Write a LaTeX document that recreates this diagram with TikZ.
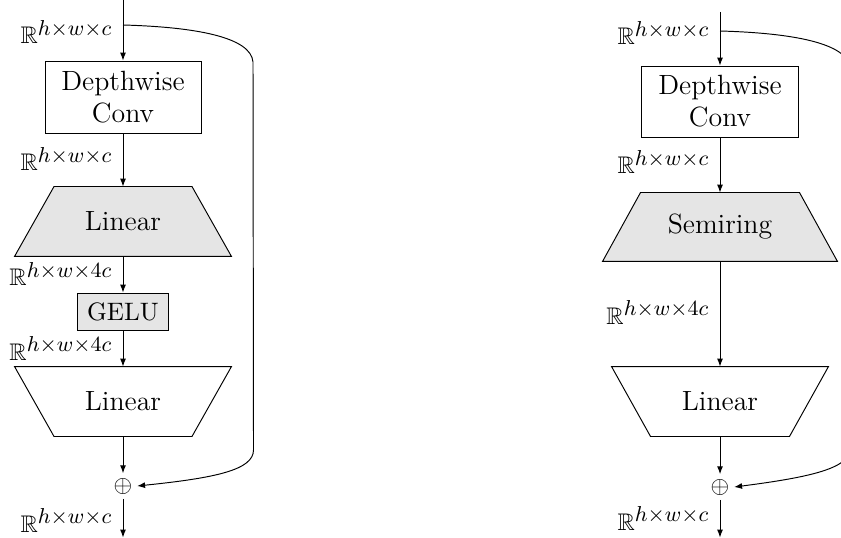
\documentclass[tikz,border=0pt]{standalone}
\usepackage{fontspec}
\usepackage{amssymb}
\usetikzlibrary{calc,backgrounds,arrows.meta}
% superscripts of the shape labels are set close to full size
\DeclareMathSizes{10}{10}{9}{7}
\newcommand\pxu{0.41667pt}
\tikzset{
  blk/.style={draw, align=center, inner sep=0pt, font=\fontsize{11.6}{13.4}\selectfont},
  trapnode/.style={inner sep=0pt, align=center, font=\fontsize{11.6}{13.4}\selectfont},
  opbox/.style={draw, fill=black!10, inner sep=0pt, font=\fontsize{10.5}{12}\selectfont},
  lbl/.style={anchor=base east, inner sep=0pt, font=\normalsize},
  plusnode/.style={inner sep=1.8pt, font=\normalsize},
  flow/.style={-{Latex[length=3.3pt,width=2.5pt]}},
  trapfill/.style={fill=black!10},
}
\begin{document}
\begin{tikzpicture}[x=\pxu, y=-\pxu]
\useasboundingbox (0,0) rectangle (841,538);
\clip (0,0) rectangle (841,538);

% ---------- left block: ConvNeXt-style MLP ----------
\coordinate (inL) at (123,-5);
\coordinate (skL) at (123,25);
\node[blk, minimum width=156*\pxu, minimum height=72*\pxu] (dwL) at (123,97) {Depthwise\\Conv};
\node[trapnode, minimum width=216*\pxu, minimum height=69*\pxu] (linAL) at (123,221.5) {Linear};
\node[opbox, minimum width=91*\pxu, minimum height=37*\pxu] (gelu) at (123,311.5) {GELU};
\node[trapnode, minimum width=216*\pxu, minimum height=69*\pxu] (linBL) at (123,401.5) {Linear};
\node[plusnode] (plusL) at (123,486) {$\oplus$};
\coordinate (outL) at (123,537.5);

\begin{scope}[on background layer]
  \filldraw[trapfill] ($(linAL.north west)+(39.5,0)$) -- ($(linAL.north east)+(-39.5,0)$)
    -- (linAL.south east) -- (linAL.south west) -- cycle;
  \draw (linBL.north west) -- (linBL.north east)
    -- ($(linBL.south east)+(-39.5,0)$) -- ($(linBL.south west)+(39.5,0)$) -- cycle;
\end{scope}

\draw[flow] (inL) -- (dwL);
\draw[flow] (dwL) -- (linAL);
\draw[flow] (linAL) -- (gelu);
\draw[flow] (gelu) -- (linBL);
\draw[flow] (linBL) -- (plusL);
\draw[flow] (plusL) -- (outL);
\draw[flow] (skL) .. controls (195,27) and (251,37) .. (253,62)
  -- (253.5,450) .. controls (253.5,470) and (215,478) .. (plusL.east);

\node[lbl] (lL1) at (113,44) {$\mathbb{R}^{h\times w\times c}$};
\node[lbl] (lL2) at (113,171) {$\mathbb{R}^{h\times w\times c}$};
\node[lbl] (lL3) at (113,286) {$\mathbb{R}^{h\times w\times 4c}$};
\node[lbl] (lL4) at (113,360) {$\mathbb{R}^{h\times w\times 4c}$};
\node[lbl] (lL5) at (113,532) {$\mathbb{R}^{h\times w\times c}$};

% ---------- right block: semiring variant ----------
\coordinate (inR) at (720,12);
\coordinate (skR) at (720,31);
\node[blk, minimum width=157*\pxu, minimum height=71*\pxu] (dwR) at (720,101.5) {Depthwise\\Conv};
\node[trapnode, minimum width=234*\pxu, minimum height=68*\pxu] (semi) at (720,227) {Semiring};
\node[trapnode, minimum width=216*\pxu, minimum height=69*\pxu] (linR) at (720,401.5) {Linear};
\node[plusnode] (plusR) at (720,487) {$\oplus$};
\coordinate (outR) at (720,537.5);

\begin{scope}[on background layer]
  \filldraw[trapfill] ($(semi.north west)+(38,0)$) -- ($(semi.north east)+(-38,0)$)
    -- (semi.south east) -- (semi.south west) -- cycle;
  \draw (linR.north west) -- (linR.north east)
    -- ($(linR.south east)+(-39,0)$) -- ($(linR.south west)+(39,0)$) -- cycle;
\end{scope}

\draw[flow] (inR) -- (dwR);
\draw[flow] (dwR) -- (semi);
\draw[flow] (semi) -- (linR);
\draw[flow] (linR) -- (plusR);
\draw[flow] (plusR) -- (outR);
\draw[flow] (skR) .. controls (792,33) and (848,43) .. (850,68)
  -- (850.5,448) .. controls (850.5,468) and (812,477) .. (plusR.east);

\node[lbl] (lR1) at (710,45) {$\mathbb{R}^{h\times w\times c}$};
\node[lbl] (lR2) at (710,174) {$\mathbb{R}^{h\times w\times c}$};
\node[lbl] (lR3) at (710,324) {$\mathbb{R}^{h\times w\times 4c}$};
\node[lbl] (lR4) at (710,530) {$\mathbb{R}^{h\times w\times c}$};
\end{tikzpicture}
\end{document}
